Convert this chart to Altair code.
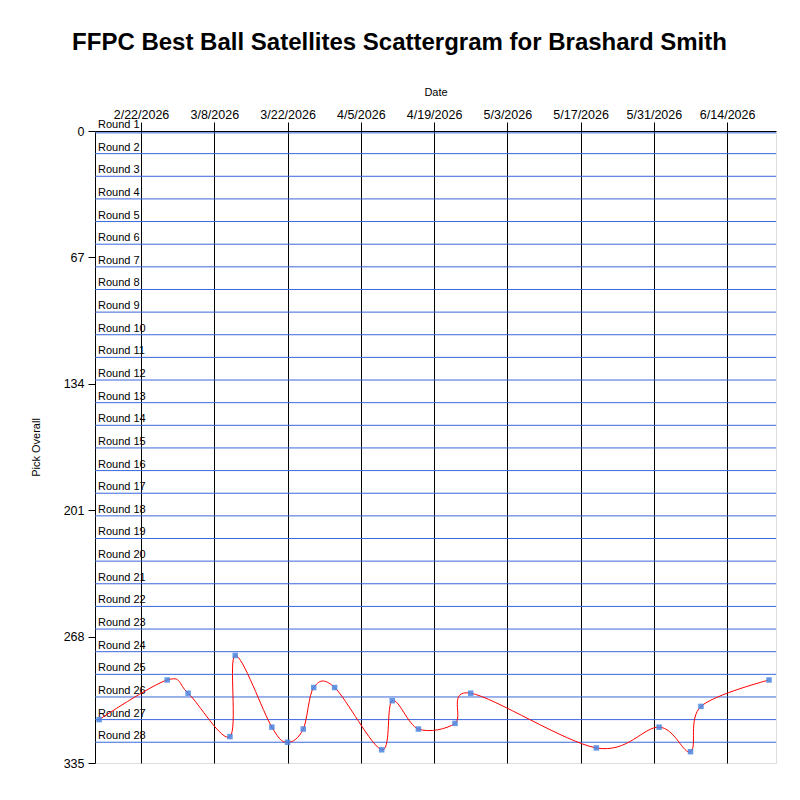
import altair as alt
import pandas as pd

# draft picks of Brashard Smith
dates = ["2026-02-14", "2026-02-27", "2026-03-03", "2026-03-11", "2026-03-12",
         "2026-03-19", "2026-03-22", "2026-03-25", "2026-03-27", "2026-03-31",
         "2026-04-09", "2026-04-11", "2026-04-16", "2026-04-23", "2026-04-26",
         "2026-05-20", "2026-06-01", "2026-06-07", "2026-06-09", "2026-06-22"]
picks = [312, 291, 298, 321, 278,
         316, 324, 317, 295, 295,
         328, 302, 317, 314, 298,
         327, 316, 329, 305, 291]

tick_dates = [(2, 22), (3, 8), (3, 22), (4, 5), (4, 19), (5, 3), (5, 17), (5, 31), (6, 14)]
pick_ticks = [0, 67, 134, 201, 268, 335]
rounds = list(range(1, 29))
teams = 12

font = "Liberation Sans"

df = pd.DataFrame({"Date": pd.to_datetime(dates), "Pick": picks})
lines_df = pd.DataFrame({"Pick": [1] + [teams * r for r in rounds[:-1]]})
labels_df = pd.DataFrame({"Label": ["Round %d" % r for r in rounds],
                          "Pick": [teams * (r - 1) for r in rounds]})

x_scale = alt.Scale(domain=[alt.DateTime(year=2026, month=2, date=13, hours=5),
                            alt.DateTime(year=2026, month=6, date=23, hours=8)])
y_scale = alt.Scale(domain=[0, 335], reverse=True, nice=False, zero=False)

x_axis = alt.Axis(orient="top", title="Date", format="%-m/%-d/%Y",
                  values=[alt.DateTime(year=2026, month=m, date=d) for m, d in tick_dates],
                  grid=True, gridColor="black", gridOpacity=1, gridWidth=1,
                  tickColor="black", tickSize=9, domainColor="black",
                  labelFont=font, labelFontSize=12.5, labelColor="black",
                  labelPadding=1, labelAngle=0, labelOverlap=False, labelFlush=False,
                  titleFont=font, titleFontSize=11, titleFontWeight="normal",
                  titleColor="black", titlePadding=11)
y_axis = alt.Axis(title="Pick Overall", values=pick_ticks, grid=False,
                  tickColor="black", tickSize=7, domainColor="black",
                  labelFont=font, labelFontSize=12.5, labelColor="black",
                  labelPadding=4, titleFont=font, titleFontSize=11,
                  titleFontWeight="normal", titleColor="black", titlePadding=22)

base = alt.Chart(df).encode(
    x=alt.X("Date:T", scale=x_scale, axis=x_axis),
    y=alt.Y("Pick:Q", scale=y_scale, axis=y_axis),
)

round_lines = alt.Chart(lines_df).mark_rule(color="#3a66dc", strokeWidth=1).encode(
    y=alt.Y("Pick:Q", scale=y_scale)
)

round_text = alt.Chart(labels_df).mark_text(
    align="left", baseline="alphabetic", dx=3, dy=-3,
    font=font, fontSize=11, color="black"
).encode(
    x=alt.value(0),
    y=alt.Y("Pick:Q", scale=y_scale),
    text="Label:N",
)

curve = base.mark_line(color="red", strokeWidth=1, interpolate="cardinal")
points = base.mark_square(size=30, color="#4a86e0", opacity=0.85)

chart = alt.layer(base.mark_point(opacity=0), round_lines, round_text, curve, points).properties(
    width=681, height=632,
    autosize=alt.AutoSizeParams(type="none"),
    padding={"left": 87, "top": 123, "right": 16, "bottom": 29},
    title=alt.TitleParams("FFPC Best Ball Satellites Scattergram for Brashard Smith",
                          font=font, fontSize=24, fontWeight="bold", color="black",
                          anchor="middle", offset=12, dx=-36, baseline="alphabetic"),
).configure_view(stroke=None).configure(background="white")

chart.save("out.html", embed_options={"renderer": "svg", "actions": False})
